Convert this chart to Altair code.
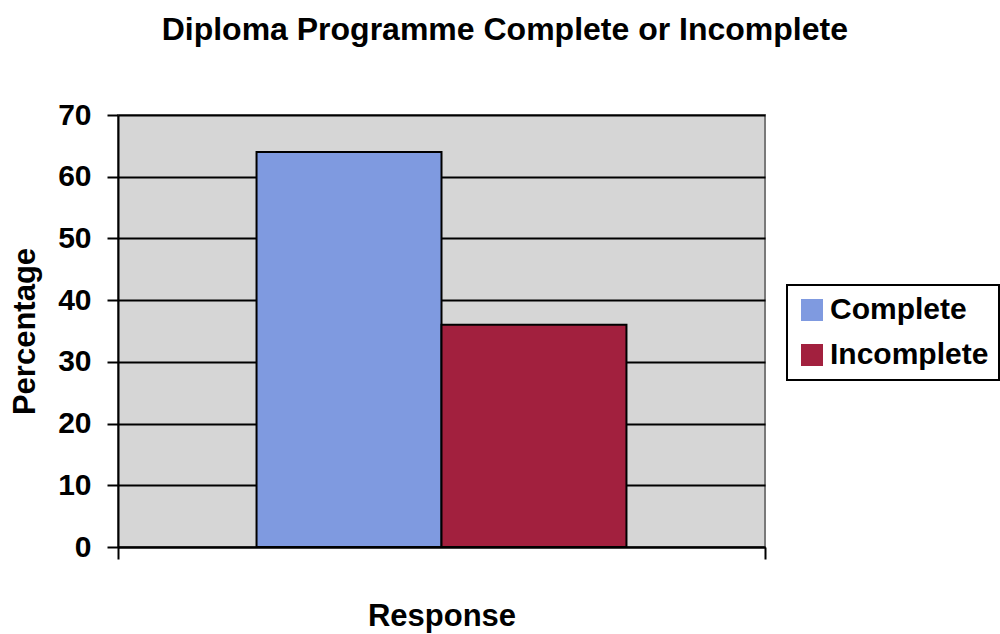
import altair as alt
import pandas as pd

# Survey results
responses = ["Complete", "Incomplete"]
percentages = [64, 36]
bar_colors = ["#7f9ae0", "#a2203e"]

df = pd.DataFrame({
    "group": ["Response"] * len(responses),
    "Response": responses,
    "Percentage": percentages,
})

FONT = "Liberation Sans"

bars = alt.Chart(df).mark_bar(
    stroke="black", strokeWidth=2
).encode(
    x=alt.X(
        "group:N",
        title="Response",
        scale=alt.Scale(paddingInner=0, paddingOuter=0),
        axis=alt.Axis(
            labels=False,
            ticks=True,
            tickBand="extent",
            tickSize=12,
            tickColor="black",
            tickWidth=2,
            domainColor="black",
            domainWidth=2,
            grid=False,
            titleFont=FONT,
            titleFontSize=31,
            titleFontWeight="bold",
            titleColor="black",
            titlePadding=41,
        ),
    ),
    xOffset=alt.XOffset(
        "Response:N",
        sort=responses,
        scale=alt.Scale(paddingInner=0, paddingOuter=0.749),
    ),
    y=alt.Y(
        "Percentage:Q",
        title="Percentage",
        scale=alt.Scale(domain=[0, 70]),
        axis=alt.Axis(
            values=[0, 10, 20, 30, 40, 50, 60, 70],
            grid=True,
            gridColor="black",
            gridWidth=2,
            domainColor="black",
            domainWidth=2,
            tickColor="black",
            tickWidth=2,
            tickSize=11,
            labelFont=FONT,
            labelFontSize=30,
            labelFontWeight="bold",
            labelColor="black",
            labelPadding=16,
            titleFont=FONT,
            titleFontSize=31,
            titleFontWeight="bold",
            titleColor="black",
            titlePadding=16,
        ),
    ),
    color=alt.Color(
        "Response:N",
        sort=responses,
        scale=alt.Scale(domain=responses, range=bar_colors),
        legend=alt.Legend(
            title=None,
            orient="none",
            legendX=669,
            legendY=170,
            symbolType="square",
            symbolSize=484,
            symbolStrokeWidth=0,
            labelFont=FONT,
            labelFontSize=30,
            labelFontWeight="bold",
            labelColor="black",
            labelOffset=3,
            rowPadding=15,
            padding=10,
            strokeColor="black",
            fillColor="white",
        ),
    ),
)

chart = bars.properties(
    width=647,
    height=432,
    autosize=alt.AutoSizeParams(type="none"),
    padding={"left": 118, "top": 115, "right": 235, "bottom": 87},
    background="white",
    title=alt.TitleParams(
        "Diploma Programme Complete or Incomplete",
        font=FONT,
        fontSize=32,
        fontWeight="bold",
        color="black",
        anchor="middle",
        frame="bounds",
        offset=53,
    ),
).configure_view(
    fill="#d6d6d6",
    stroke="#7a7a7a",
    strokeWidth=2,
).configure_legend(
    strokeWidth=2,
)

chart.save("out.html", embed_options={"renderer": "svg", "actions": False})
